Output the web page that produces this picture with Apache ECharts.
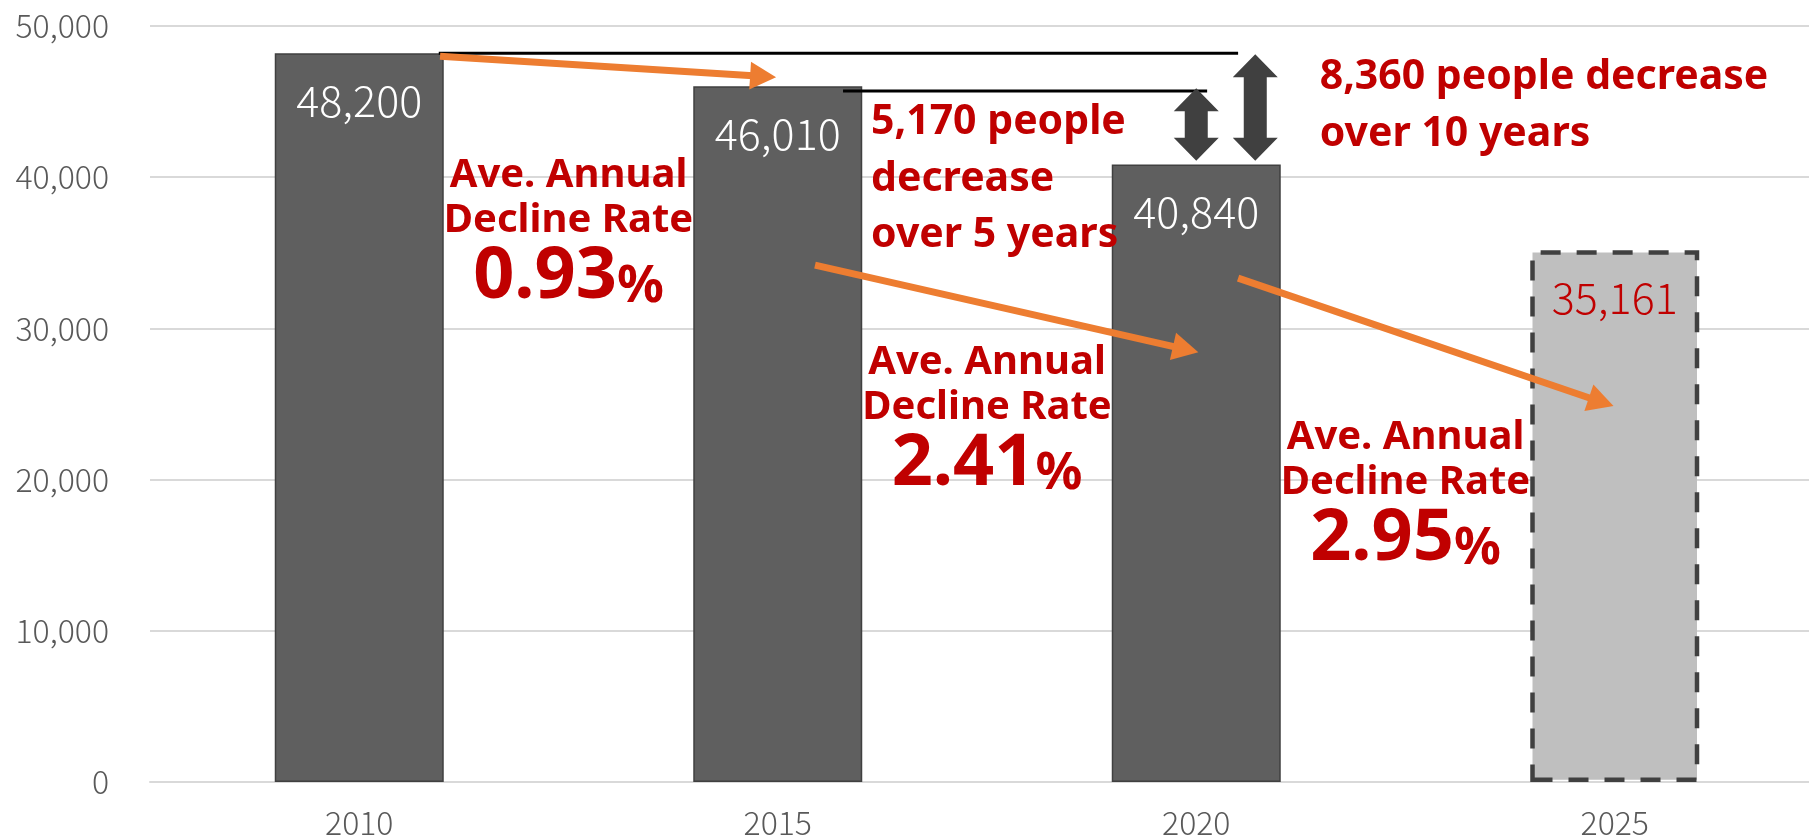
<!DOCTYPE html>
<html>
<head>
<meta charset="utf-8">
<script src="https://cdn.jsdelivr.net/npm/echarts@6/dist/echarts.min.js"></script>
<style>
html,body{margin:0;padding:0;background:#fff;}
#chart{width:1809px;height:839px;}
</style>
</head>
<body>
<div id="chart"></div>
<script>
// 人口の推移（2025年は推計値）
var years = ['2010', '2015', '2020', '2025'];
var population = [48200, 46010, 40840, 35161];
var projectedIndex = 3;
var yMin = 0, yMax = 50000, yStep = 10000;

// 注記の位置（x はカテゴリ番号、y は人数）
var levelLines = [[0.19, 48200, 2.10, 48200], [1.156, 45700, 2.026, 45700]];
var trendArrows = [[0.193, 48000, 0.996, 46612], [1.089, 34182, 2.005, 28430], [2.100, 33322, 2.997, 24860]];
var gapArrows = [[2.0, 45880, 2.0, 41080], [2.141, 48130, 2.141, 41080]];
var rates = ['0.93', '2.41', '2.95'];
var rateSpots = [[0.5, 40110], [1.5, 27750], [2.5, 22800]];
var gapNotes = [['5,170 people', 'decrease', 'over 5 years'], ['8,360 people decrease', 'over 10 years']];
var gapSpots = [[1.223, 43610], [2.295, 46590]];

var RED = '#c00000', ORANGE = '#ed7d31', DARK = '#404040';
var LIGHT_FONT = '"Noto Sans CJK JP", "Noto Sans", sans-serif';
var BOLD_FONT = '"Noto Sans", "Noto Sans CJK JP", sans-serif';

var chart = echarts.init(document.getElementById('chart'));

var barData = population.map(function (v, i) {
	if (i !== projectedIndex) return v;
	return {
		value: v,
		itemStyle: { color: '#bfbfbf', borderColor: DARK, borderWidth: 4.5, borderType: [20, 16] },
		label: { color: RED }
	};
});

function levelLine(params, api) {
	var a = api.coord([api.value(0), api.value(1)]);
	var b = api.coord([api.value(2), api.value(3)]);
	return { type: 'line', shape: { x1: a[0], y1: a[1], x2: b[0], y2: b[1] }, style: { stroke: '#000', lineWidth: 3 } };
}

function trendArrow(params, api) {
	var a = api.coord([api.value(0), api.value(1)]);
	var b = api.coord([api.value(2), api.value(3)]);
	var dx = b[0] - a[0], dy = b[1] - a[1];
	var len = Math.sqrt(dx * dx + dy * dy);
	var ux = dx / len, uy = dy / len;
	var hl = 26, hw = 14;
	var bx = b[0] - ux * hl, by = b[1] - uy * hl;
	return {
		type: 'group',
		children: [
			{ type: 'line', shape: { x1: a[0], y1: a[1], x2: bx + ux * 3, y2: by + uy * 3 }, style: { stroke: ORANGE, lineWidth: 7 } },
			{ type: 'polygon', shape: { points: [[b[0], b[1]], [bx - uy * hw, by + ux * hw], [bx + uy * hw, by - ux * hw]] }, style: { fill: ORANGE } }
		]
	};
}

function gapArrow(params, api) {
	var a = api.coord([api.value(0), api.value(1)]);
	var b = api.coord([api.value(2), api.value(3)]);
	var cx = a[0], t = a[1], d = b[1];
	var W = 22.5, H = 23, S = 11.5;
	return {
		type: 'polygon',
		shape: {
			points: [
				[cx, t], [cx + W, t + H], [cx + S, t + H], [cx + S, d - H], [cx + W, d - H],
				[cx, d], [cx - W, d - H], [cx - S, d - H], [cx - S, t + H], [cx - W, t + H]
			]
		},
		style: { fill: DARK }
	};
}

function rateNote(params, api) {
	var p = api.coord([api.value(0), api.value(1)]);
	var i = params.dataIndex;
	function txt(y, text, extra) {
		var s = { x: p[0], y: y, text: text, fill: RED, fontFamily: BOLD_FONT, fontWeight: 'bold', fontSize: 40, align: 'center', verticalAlign: 'middle' };
		for (var k in extra) s[k] = extra[k];
		return { type: 'text', style: s };
	}
	return {
		type: 'group',
		children: [
			txt(p[1], 'Ave. Annual'),
			txt(p[1] + 45, 'Decline Rate'),
			txt(p[1] + 102, '{n|' + rates[i] + '}{p|%}', {
				rich: {
					n: { fontSize: 72, lineHeight: 72, fontWeight: 'bold', fontFamily: BOLD_FONT, fill: RED, verticalAlign: 'bottom' },
					p: { fontSize: 52, lineHeight: 52, fontWeight: 'bold', fontFamily: BOLD_FONT, fill: RED, verticalAlign: 'bottom' }
				}
			})
		]
	};
}

function gapNote(params, api) {
	var p = api.coord([api.value(0), api.value(1)]);
	var lines = gapNotes[params.dataIndex];
	return {
		type: 'group',
		children: lines.map(function (line, k) {
			return {
				type: 'text',
				style: { x: p[0], y: p[1] + k * 56.5, text: line, fill: RED, fontFamily: BOLD_FONT, fontWeight: 'bold', fontSize: 41, align: 'left', verticalAlign: 'middle' }
			};
		})
	};
}

function noteSeries(data, render, z) {
	return {
		type: 'custom',
		xAxisIndex: 1,
		yAxisIndex: 0,
		data: data,
		encode: data[0].length > 2 ? { x: [0, 2], y: [1, 3] } : { x: 0, y: 1 },
		renderItem: render,
		clip: false,
		silent: true,
		z: z
	};
}

var option = {
	animation: false,
	backgroundColor: '#fff',
	grid: { left: 150, top: 26, width: 1674, height: 756, outerBoundsMode: 'none' },
	xAxis: [{
		type: 'category',
		data: years,
		axisLine: { show: true, lineStyle: { color: '#d9d9d9', width: 2 } },
		axisTick: { show: false },
		axisLabel: { fontSize: 32, color: '#595959', fontFamily: LIGHT_FONT, fontWeight: 300, margin: 25 }
	}, {
		type: 'value',
		min: -0.5,
		max: 3.5,
		show: false
	}],
	yAxis: {
		type: 'value',
		min: yMin,
		max: yMax,
		interval: yStep,
		axisLine: { show: false },
		axisTick: { show: false },
		splitLine: { lineStyle: { color: '#d9d9d9', width: 2 } },
		axisLabel: {
			fontSize: 32, color: '#595959', fontFamily: LIGHT_FONT, fontWeight: 300, margin: 41,
			formatter: function (v) { return v.toLocaleString('en-US'); }
		}
	},
	series: [
		{
			type: 'bar',
			data: barData,
			barWidth: 169,
			itemStyle: { color: '#5f5f5f', borderColor: DARK, borderWidth: 1.5 },
			label: {
				show: true,
				position: 'insideTop',
				distance: 25.5,
				fontSize: 43,
				lineHeight: 43,
				fontFamily: LIGHT_FONT,
				fontWeight: 300,
				color: '#fff',
				formatter: function (p) { return p.value.toLocaleString('en-US'); }
			},
			z: 2
		},
		noteSeries(levelLines, levelLine, 3),
		noteSeries(gapArrows, gapArrow, 3),
		noteSeries(trendArrows, trendArrow, 4),
		noteSeries(rateSpots, rateNote, 5),
		noteSeries(gapSpots, gapNote, 5)
	]
};

chart.setOption(option);
</script>
</body>
</html>
